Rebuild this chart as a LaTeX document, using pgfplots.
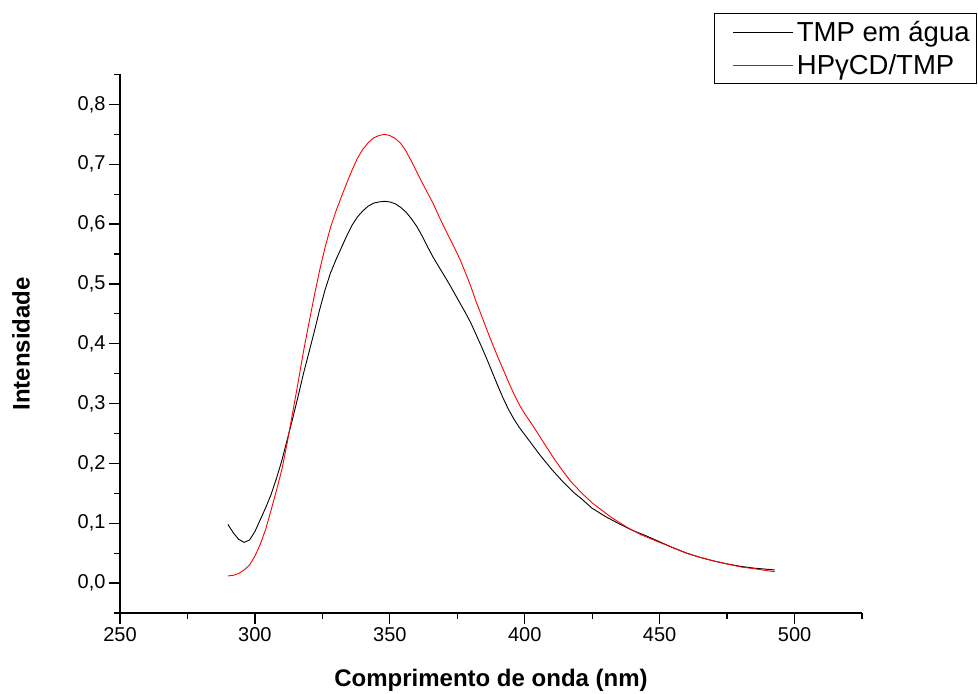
\documentclass[border=0pt]{standalone}
\usepackage{pgfplots}
\pgfplotsset{compat=1.18}
\usepackage{pgfplotstable}
\usepackage{fontspec}
\setmainfont{Liberation Sans}

\pgfplotstableread{
x y
290 0.098
292 0.084
294 0.073
296 0.068
298 0.072
300 0.086
302 0.106
304 0.126
306 0.148
308 0.175
310 0.205
312 0.240
314 0.275
316 0.312
318 0.350
320 0.385
322 0.420
324 0.457
326 0.490
328 0.518
330 0.540
332 0.560
334 0.580
336 0.598
338 0.612
340 0.622
342 0.630
344 0.635
346 0.637
348 0.638
350 0.637
352 0.634
354 0.628
356 0.620
358 0.609
360 0.596
362 0.580
364 0.562
366 0.545
368 0.530
370 0.515
372 0.500
374 0.484
376 0.468
378 0.452
380 0.435
382 0.415
384 0.395
386 0.374
388 0.352
390 0.330
392 0.309
394 0.290
396 0.274
398 0.260
400 0.248
403 0.230
406 0.212
410 0.190
414 0.170
418 0.152
421 0.141
425 0.125
430 0.111
435 0.099
440 0.088
445 0.079
450 0.069
455 0.059
460 0.050
465 0.043
470 0.037
475 0.032
480 0.028
485 0.025
492.6 0.022
}\tmp

\pgfplotstableread{
x y
290 0.012
292 0.013
294 0.016
296 0.022
298 0.030
300 0.045
302 0.065
304 0.090
306 0.122
308 0.155
310 0.190
312 0.235
314 0.285
316 0.335
318 0.387
320 0.434
322 0.480
324 0.523
326 0.561
328 0.594
330 0.621
332 0.645
334 0.668
336 0.690
338 0.710
340 0.725
342 0.736
344 0.744
346 0.748
348 0.750
350 0.748
352 0.743
354 0.735
356 0.722
358 0.705
360 0.687
362 0.669
364 0.652
366 0.635
368 0.615
370 0.596
372 0.578
374 0.560
376 0.541
378 0.519
380 0.496
382 0.470
384 0.447
386 0.423
388 0.400
390 0.378
392 0.357
394 0.336
396 0.316
398 0.298
400 0.283
402 0.270
405 0.249
408 0.228
411 0.207
414 0.188
417 0.170
421 0.151
425 0.134
432 0.110
438 0.093
443 0.081
450 0.068
455 0.059
460 0.050
465 0.043
470 0.037
475 0.032
480 0.027
485 0.024
492.6 0.019
}\hpg

\begin{document}
\begin{tikzpicture}
\begin{axis}[
  scale only axis,
  width=742pt, height=538.5pt,
  xmin=250, xmax=525,
  ymin=-0.05, ymax=0.85,
  axis x line*=bottom, axis y line*=left,
  axis line style={-, line width=1.3pt},
  xtick={250,300,350,400,450,500},
  minor xtick={275,325,375,425,475,525},
  ytick={0,0.1,0.2,0.3,0.4,0.5,0.6,0.7,0.8},
  minor ytick={-0.05,0.05,0.15,0.25,0.35,0.45,0.55,0.65,0.75,0.85},
  tick align=outside,
  major tick length=11pt,
  minor tick length=6pt,
  every tick/.style={black, line width=1.3pt},
  tick label style={font=\fontsize{20}{24}\selectfont},
  /pgf/number format/assume math mode=true,
  yticklabel style={/pgf/number format/.cd, use comma, fixed, fixed zerofill, precision=1},
  xticklabel style={/pgf/number format/.cd, set thousands separator={}},
  xlabel={Comprimento de onda (nm)},
  ylabel={Intensidade},
  label style={font=\bfseries\fontsize{24}{28}\selectfont},
  xlabel style={at={(axis description cs:0.5,-0.137)}, anchor=base, inner sep=0pt},
  ylabel style={at={(axis description cs:-0.1213,0.5)}, anchor=south, rotate=0, inner sep=0pt},
  clip=false,
  legend style={at={(axis description cs:1.155,1.114)}, anchor=north east,
    draw=black, line width=0.8pt, font=\fontsize{27.5}{30}\selectfont,
    inner xsep=4pt, inner ysep=6pt, row sep=7pt,
    nodes={inner xsep=3pt},
    cells={anchor=west}},
  legend image code/.code={%
    \draw[draw=none, fill=none] (0pt,-1pt) rectangle (76pt,1pt);
    \draw[#1, line width=0.8pt] (15pt,0pt) -- (75pt,0pt);},
]
\path (rel axis cs:-0.1617,-0.1486) rectangle (rel axis cs:1.1563,1.1383);
\addplot[black, line width=0.9pt] table {\tmp};
\addlegendentry{TMP em água}
\addplot[red, line width=0.9pt] table {\hpg};
\addlegendentry{HPγCD/TMP}
\end{axis}
\end{tikzpicture}
\end{document}
